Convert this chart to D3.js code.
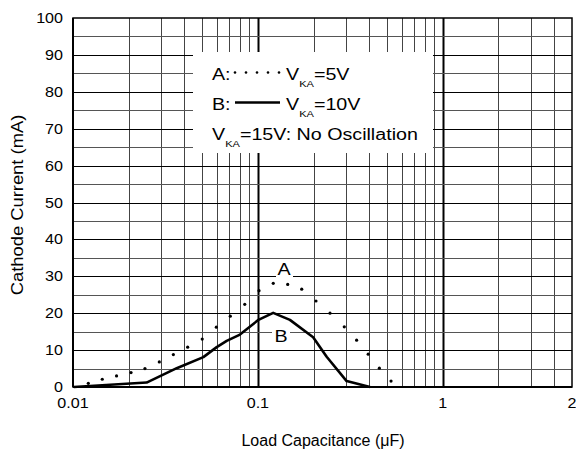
<!DOCTYPE html>
<html>
<head>
<meta charset="utf-8">
<script src="https://cdn.jsdelivr.net/npm/d3@7"></script>
<style>
  body { margin: 0; background: #fff; }
  text { font-family: "Liberation Sans", Arial, sans-serif; fill: #000; }
</style>
</head>
<body>
<div id="chart"></div>
<script>
// curve A: V_KA = 5V (dotted)
const capA = [0.0121, 0.0144, 0.0172, 0.0206, 0.0245, 0.0293, 0.0349, 0.0417, 0.0500, 0.0596, 0.0709, 0.0849,
              0.1014, 0.1211, 0.145, 0.1726, 0.2062, 0.2455, 0.2933, 0.342, 0.395, 0.454, 0.525];
const currentA = [1.0, 2.1, 3.0, 3.9, 5.0, 6.8, 8.8, 10.8, 13.0, 16.2, 19.2, 22.4,
                  26.1, 28.1, 27.8, 26.5, 23.3, 20.0, 16.3, 12.7, 8.9, 5.1, 1.6];
// curve B: V_KA = 10V (solid)
const capB = [0.0101, 0.025, 0.0364, 0.0507, 0.0599, 0.0678, 0.080, 0.1007, 0.121, 0.149, 0.199, 0.2355, 0.302, 0.404];
const currentB = [0, 1.2, 5.1, 8.1, 10.8, 12.5, 14.2, 18.2, 20.1, 18.2, 13.5, 8.2, 1.6, 0];

const xTickValues = [0.01, 0.1, 1, 5];
const xTickLabels = ['0.01', '0.1', '1', '2'];
const yTickValues = [0, 10, 20, 30, 40, 50, 60, 70, 80, 90, 100];

const width = 576, height = 455;
const margin = { left: 73, right: 4, top: 18, bottom: 68 };

const x = d3.scaleLog().domain([0.01, 5]).range([margin.left, width - margin.right]);
const y = d3.scaleLinear().domain([0, 100]).range([height - margin.bottom, margin.top]);

const svg = d3.select('#chart').append('svg')
  .attr('width', width)
  .attr('height', height);

// grid
const vLines = [];
[0.01, 0.1, 1].forEach(dec => {
  for (let m = 1; m <= 9; m++) {
    const v = +(m * dec).toPrecision(3);
    if (v > 0.01 && v < 5) vLines.push(v);
  }
});
svg.append('g').selectAll('line')
  .data(vLines)
  .enter().append('line')
  .attr('x1', d => Math.round(x(d)) + 0.5).attr('x2', d => Math.round(x(d)) + 0.5)
  .attr('y1', y(100)).attr('y2', y(0))
  .attr('stroke', d => (d === 0.1 || d === 1) ? '#000' : '#444')
  .attr('stroke-width', d => (d === 0.1 || d === 1) ? 2 : 1);

svg.append('g').selectAll('line')
  .data(d3.range(5, 100, 5))
  .enter().append('line')
  .attr('x1', x(0.01)).attr('x2', x(5))
  .attr('y1', d => Math.round(y(d)) + 0.5).attr('y2', d => Math.round(y(d)) + 0.5)
  .attr('stroke', d => d % 10 === 0 ? '#000' : '#555')
  .attr('stroke-width', 1);

// legend background covers the grid
svg.append('rect')
  .attr('x', 193).attr('y', 52)
  .attr('width', 240).attr('height', 101)
  .attr('fill', '#fff');

// frame
svg.append('rect')
  .attr('x', x(0.01)).attr('y', y(100))
  .attr('width', x(5) - x(0.01)).attr('height', y(0) - y(100))
  .attr('fill', 'none').attr('stroke', '#000').attr('stroke-width', 1.5);
svg.append('line')
  .attr('x1', x(0.01)).attr('x2', x(0.01)).attr('y1', y(100)).attr('y2', y(0))
  .attr('stroke', '#000').attr('stroke-width', 2);
svg.append('line')
  .attr('x1', x(0.01)).attr('x2', x(5)).attr('y1', y(0)).attr('y2', y(0))
  .attr('stroke', '#000').attr('stroke-width', 2);

// curve B
const lineB = d3.line().x(d => x(d[0])).y(d => y(d[1]));
svg.append('path')
  .datum(d3.zip(capB, currentB))
  .attr('d', lineB)
  .attr('fill', 'none')
  .attr('stroke', '#000')
  .attr('stroke-width', 2.6)
  .attr('stroke-linejoin', 'round');

// curve A dots
svg.append('g').selectAll('circle')
  .data(d3.zip(capA, currentA))
  .enter().append('circle')
  .attr('cx', d => x(d[0]))
  .attr('cy', d => y(d[1]))
  .attr('r', 1.6)
  .attr('fill', '#000');

// tick labels
svg.append('g').selectAll('text')
  .data(yTickValues)
  .enter().append('text')
  .attr('transform', d => `translate(63,${y(d) + 5}) scale(1.15,1)`)
  .attr('text-anchor', 'end')
  .style('font-size', '14px')
  .text(d => d);

svg.append('g').selectAll('text')
  .data(xTickValues)
  .enter().append('text')
  .attr('transform', d => `translate(${x(d)},408) scale(1.15,1)`)
  .attr('text-anchor', 'middle')
  .style('font-size', '14px')
  .text((d, i) => xTickLabels[i]);

// axis titles
svg.append('text')
  .attr('x', 323).attr('y', 446)
  .attr('text-anchor', 'middle')
  .style('font-size', '16px')
  .text('Load Capacitance (\u03BCF)');

svg.append('text')
  .attr('transform', 'translate(23,205) rotate(-90) scale(1.08,1)')
  .attr('text-anchor', 'middle')
  .style('font-size', '17px')
  .text('Cathode Current (mA)');

// legend
const sx = 1.23;
function vka(xp, yp, rest) {
  const t = svg.append('text')
    .attr('transform', `translate(${xp},${yp}) scale(${sx},1)`)
    .style('font-size', '16px');
  t.append('tspan').text('V');
  t.append('tspan').attr('dy', 7).style('font-size', '9px').text('KA');
  t.append('tspan').attr('dy', -7).text(rest);
}
svg.append('text')
  .attr('transform', `translate(212,79.5) scale(${sx},1)`)
  .style('font-size', '16px').text('A:');
svg.append('g').selectAll('circle')
  .data(d3.range(5))
  .enter().append('circle')
  .attr('cx', d => 235 + d * 11).attr('cy', 72.5).attr('r', 1.3).attr('fill', '#000');
vka(286, 79.5, '=5V');

svg.append('text')
  .attr('transform', `translate(212,109.5) scale(${sx},1)`)
  .style('font-size', '16px').text('B:');
svg.append('line')
  .attr('x1', 235).attr('x2', 280).attr('y1', 102.5).attr('y2', 102.5)
  .attr('stroke', '#000').attr('stroke-width', 2.6);
vka(286, 109.5, '=10V');

vka(212, 140, '=15V: No Oscillation');

// curve labels with white backing
[['A', 284, 275, 276, 259, 17, 19], ['B', 281, 342, 272, 328, 18, 17]].forEach(l => {
  svg.append('rect').attr('x', l[3]).attr('y', l[4]).attr('width', l[5]).attr('height', l[6]).attr('fill', '#fff');
  svg.append('text')
    .attr('transform', `translate(${l[1]},${l[2]}) scale(${sx},1)`)
    .attr('text-anchor', 'middle')
    .style('font-size', '16px')
    .text(l[0]);
});
</script>
</body>
</html>
